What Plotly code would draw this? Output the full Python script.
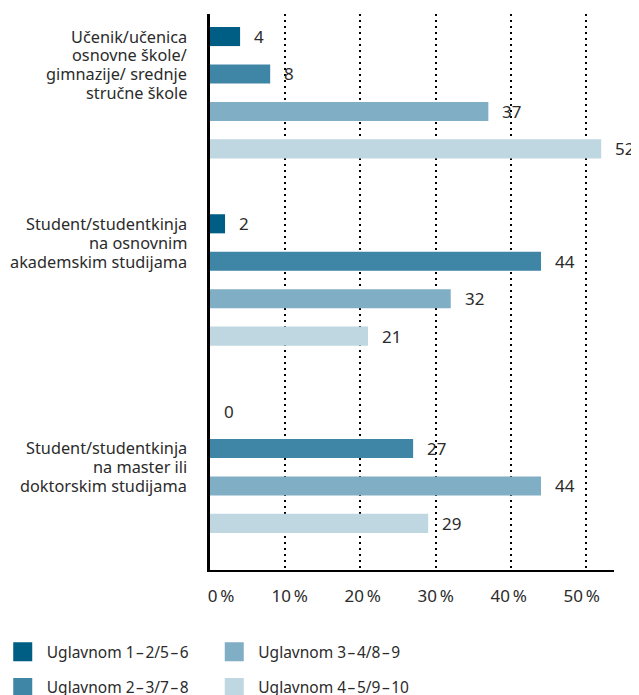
import plotly.graph_objects as go

# ---- data ----
categories = [
    "Učenik/učenica<br>osnovne škole/<br>gimnazije/ srednje<br>stručne škole",
    "Student/studentkinja<br>na osnovnim<br>akademskim studijama",
    "Student/studentkinja<br>na master ili<br>doktorskim studijama",
]
series_names = [
    "Uglavnom 1–2/5–6",
    "Uglavnom 2–3/7–8",
    "Uglavnom 3–4/8–9",
    "Uglavnom 4–5/9–10",
]
values = [
    [4, 2, 0],      # Uglavnom 1–2/5–6
    [8, 44, 27],    # Uglavnom 2–3/7–8
    [37, 32, 44],   # Uglavnom 3–4/8–9
    [52, 21, 29],   # Uglavnom 4–5/9–10
]
colors = ["#005e85", "#3f85a5", "#80aec4", "#bfd7e1"]
tick_vals = [0, 10, 20, 30, 40, 50]
tick_text = ["0\u202f%", "10\u202f%", "20\u202f%", "30\u202f%", "40\u202f%", "50\u202f%"]

FONT = "Noto Sans"
TXT = "#2b2b2b"
NB = "\u00a0"
# small visual nudges of the tick labels (leading/trailing no-break spaces)
tick_pad = [(5, 0), (2, 0), (1, 0), (0, 0), (0, 1), (0, 2)]
tick_text_shown = [NB * a + t + NB * b for t, (a, b) in zip(tick_text, tick_pad)]

n_series = len(series_names)
n_cat = len(categories)
bargap = 0.2
slot = (1 - bargap) / n_series

fig = go.Figure()
cat_idx = list(range(n_cat))
for k, name in enumerate(series_names):
    fig.add_trace(go.Bar(
        x=values[k], y=cat_idx, orientation="h", name=name,
        marker=dict(color=colors[k], line=dict(width=0)),
        showlegend=False, hoverinfo="x",
    ))

# legend entries (square swatches), column-major in two rows
legend_of = ["legend", "legend2", "legend", "legend2"]
for k, name in enumerate(series_names):
    fig.add_trace(go.Scatter(
        x=[None], y=[None], mode="markers",
        name=NB + name.replace("–", "\u200a–\u200a"),
        marker=dict(symbol="square", size=16, color=colors[k],
                    line=dict(width=3, color=colors[k])),
        legend=legend_of[k], showlegend=True,
    ))

annotations = []
# value labels
for k in range(n_series):
    off = -(1 - bargap) / 2 + slot * (k + 0.5)
    for c in range(n_cat):
        annotations.append(dict(
            x=values[k][c], y=c + off, xref="x", yref="y",
            text=str(values[k][c]), showarrow=False,
            xanchor="left", yanchor="middle", xshift=12,
            font=dict(family=FONT, size=17, color=TXT),
        ))
# category labels (line by line for tight leading)
for c, lab in enumerate(categories):
    first = next(k for k in range(n_series) if values[k][c] > 0)
    off = -(1 - bargap) / 2 + slot * (first + 0.5)
    for i, line in enumerate(lab.split("<br>")):
        annotations.append(dict(
            x=0, y=c + off, xref="paper", yref="y",
            text=line, showarrow=False,
            xanchor="right", yanchor="middle", xshift=-21, yshift=-i * 18.9,
            font=dict(family=FONT, size=16.3, color=TXT),
        ))

fig.update_layout(
    width=639, height=695,
    margin=dict(l=202, r=33, t=6, b=133, autoexpand=False),
    paper_bgcolor="white", plot_bgcolor="white",
    barmode="group", bargap=bargap, bargroupgap=0.49,
    font=dict(family=FONT, size=16, color=TXT),
    showlegend=True,
    legend=dict(orientation="h", x=-0.513, xanchor="left", y=-0.148, yanchor="middle",
                entrywidth=166.5, entrywidthmode="pixels",
                font=dict(family=FONT, size=15.5, color=TXT), bgcolor="rgba(0,0,0,0)"),
    legend2=dict(orientation="h", x=-0.513, xanchor="left", y=-0.212, yanchor="middle",
                 entrywidth=166.5, entrywidthmode="pixels",
                 font=dict(family=FONT, size=15.5, color=TXT), bgcolor="rgba(0,0,0,0)"),
    annotations=annotations,
)
fig.update_xaxes(
    range=[0, 53.7], tickvals=tick_vals, ticktext=tick_text_shown,
    showgrid=True, gridcolor="black", gridwidth=1.5, griddash="1.5px,4.5px",
    showline=True, linecolor="black", linewidth=2,
    zeroline=False, ticks="", ticklabelstandoff=10,
    tickfont=dict(family=FONT, size=17, color=TXT), fixedrange=True,
)
fig.update_yaxes(
    type="linear", range=[2.549, -0.4204], showticklabels=False,
    showgrid=False, zeroline=False, ticks="",
    showline=True, linecolor="black", linewidth=3, fixedrange=True,
)
fig.write_html("out.html")
